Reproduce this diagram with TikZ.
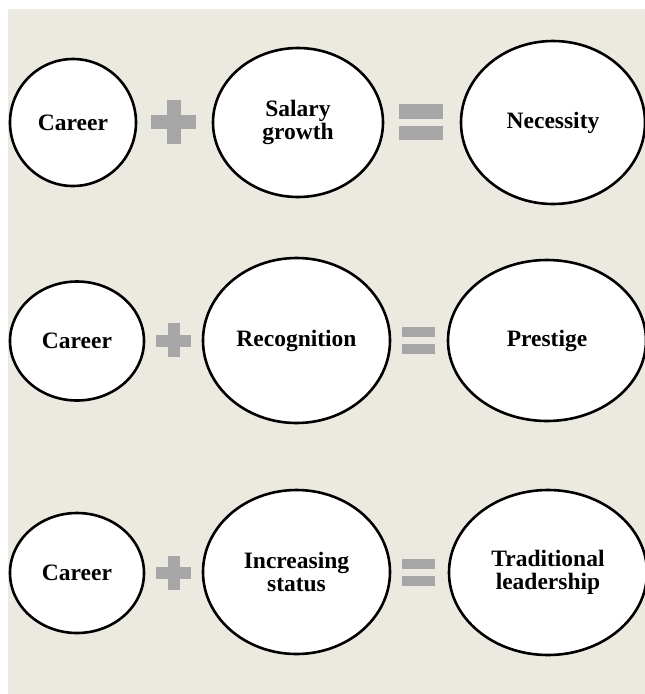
\documentclass[tikz,border=0pt]{standalone}
\usepackage{fontspec}
\setmainfont{Liberation Serif}
\usetikzlibrary{shapes.geometric}
\definecolor{paper}{RGB}{236,234,224}
\definecolor{opgray}{RGB}{166,166,166}
\begin{document}
\begin{tikzpicture}[x=1pt,y=-1pt,
  term/.style={ellipse, draw=black, line width=2.6pt, fill=white, inner sep=0pt,
    align=center, font=\fontsize{23.5}{23.5}\selectfont\bfseries},
  op/.style={fill=opgray}]
% page and tinted panel
\useasboundingbox (0,0) rectangle (645,694);
\fill[white] (0,0) rectangle (645,694);
\fill[paper] (8,9) rectangle (645,694);

% row 1: Career + Salary growth = Necessity
\node[term, minimum width=126pt, minimum height=127pt] (career1) at (73,122.5) {Career};
\node[term, minimum width=170pt, minimum height=149pt] (salary) at (298,122.5) {Salary\\growth};
\node[term, minimum width=184pt, minimum height=163pt] (necessity) at (553,122.5) {Necessity};
\fill[op] (151,115) rectangle (196,129);
\fill[op] (167,100) rectangle (181,144);
\fill[op] (399,104) rectangle (443,119);
\fill[op] (399,126) rectangle (443,140);

% row 2: Career + Recognition = Prestige
\node[term, minimum width=134pt, minimum height=119pt] (career2) at (77,341) {Career};
\node[term, minimum width=187pt, minimum height=165pt] (recognition) at (296.5,340.5) {Recognition};
\node[term, minimum width=198pt, minimum height=161pt] (prestige) at (547,340.5) {Prestige};
\fill[op] (156,335) rectangle (191,347);
\fill[op] (167.5,323) rectangle (179.5,357);
\fill[op] (402,327) rectangle (435,337);
\fill[op] (402,344) rectangle (435,354);

% row 3: Career + Increasing status = Traditional leadership
\node[term, minimum width=134pt, minimum height=120pt] (career3) at (77,573) {Career};
\node[term, minimum width=187pt, minimum height=164pt] (status) at (296.5,572) {Increasing\\status};
\node[term, minimum width=198pt, minimum height=165pt] (leadership) at (548,572.5) {Traditional\\leadership};
\fill[op] (156,567) rectangle (191,579);
\fill[op] (167.5,556) rectangle (179.5,590);
\fill[op] (402,559) rectangle (435,569);
\fill[op] (402,576) rectangle (435,586);
\end{tikzpicture}
\end{document}
